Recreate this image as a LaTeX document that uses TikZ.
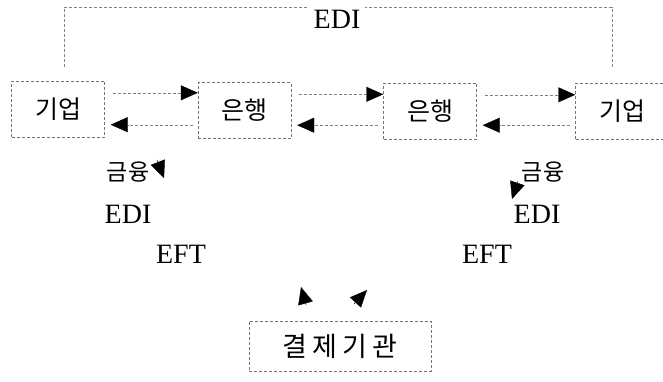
\documentclass[tikz,border=0pt]{standalone}
\usepackage{fontspec}
\setmainfont{Liberation Serif}
\newfontfamily\krfont{Noto Sans CJK KR}
\usetikzlibrary{arrows.meta}

\begin{document}
\begin{tikzpicture}[x=1pt, y=-1pt,
    box/.style={draw=black!55, densely dashed, thin, minimum width=93pt, minimum height=56pt,
                font=\krfont\fontsize{25}{25}\selectfont},
    wire/.style={draw=black!50, densely dashed, thin},
    flow/.style={wire, -{Triangle[length=17pt,width=15pt,black]}},
    tiponly/.style={draw=black, -{Triangle[length=17pt,width=15pt]}},
    lbl/.style={font=\fontsize{28}{28}\selectfont, inner sep=0pt},
    krlbl/.style={font=\krfont\fontsize{23}{23}\selectfont, inner sep=0pt}]
    \useasboundingbox (0,0) rectangle (663,381);
    % boxes in the top row
    \node[box] (firmL) at (58,109) {기업};
    \node[box] (bankL) at (244.5,110.5) {은행};
    \node[box] (bankR) at (430,111) {은행};
    \node[box] (firmR) at (622,111) {기업};
    \node[box, minimum width=182pt, minimum height=50pt, font=\krfont\fontsize{27}{27}\selectfont]
        (clear) at (340,346) {결\hspace{5pt}제\hspace{5pt}기\hspace{5pt}관};
    % EDI link over the top
    \coordinate (topL) at (64,7);
    \coordinate (topR) at (612,7);
    \draw[wire] ([yshift=14pt]firmL.north -| topL) -- (topL) -- (topR) -- ([yshift=14pt]firmR.north -| topR);
    \node[lbl, fill=white, inner xsep=5pt, inner ysep=3pt] (ediTop) at (337,19) {EDI};
    % arrows between the boxes
    \foreach \a/\b in {firmL/bankL, bankL/bankR, bankR/firmR} {
        \draw[flow, shorten <=8pt] ([yshift=-12pt]\a.north east) -- ([yshift=-12pt]\a.north east -| \b.west);
        \draw[flow, shorten <=5pt, shorten >=6pt] ([yshift=14pt]\b.south west) -- ([yshift=14pt]\b.south west -| \a.east);
    }
    % labels below
    \node[krlbl] (finTxtL) at (128,172) {금융};
    \node[lbl] (ediL) at (128,214) {EDI};
    \node[lbl] (eftL) at (181,254) {EFT};
    \node[krlbl] (finTxtR) at (543,172) {금융};
    \node[lbl] (ediR) at (537,214) {EDI};
    \node[lbl] (eftR) at (487,254) {EFT};
    % loose arrow heads
    \coordinate (finL0) at (157,160);
    \coordinate (finL) at (164,178);
    \coordinate (finR0) at (518,181);
    \coordinate (finR) at (512,199);
    \coordinate (payL0) at (306,305);
    \coordinate (payL) at (301,287);
    \coordinate (payR0) at (354,304);
    \coordinate (payR) at (367,290);
    \draw[tiponly] (finL0) -- (finL);
    \draw[tiponly] (finR0) -- (finR);
    \draw[tiponly] (payL0) -- (payL);
    \draw[tiponly] (payR0) -- (payR);
\end{tikzpicture}
\end{document}
